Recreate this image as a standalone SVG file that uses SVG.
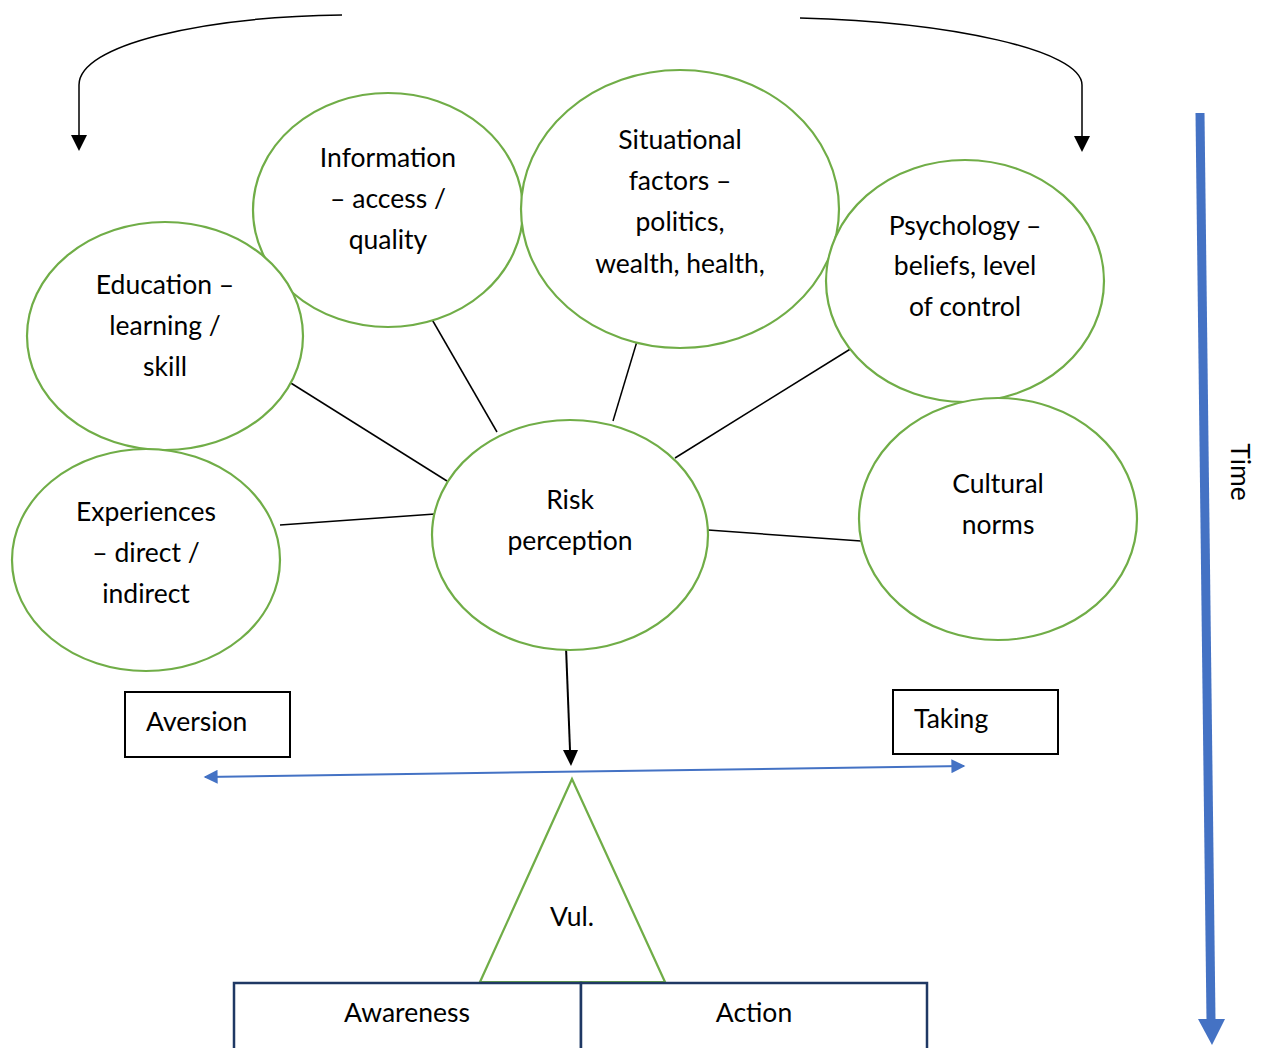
<svg xmlns="http://www.w3.org/2000/svg" width="1267" height="1048" viewBox="0 0 1267 1048">
<defs>
<style>
.n{fill:#fff;stroke:#70AD47;stroke-width:2.2}
.t{font-family:Lato,"Open Sans",sans-serif;font-size:26.5px;fill:#000;text-anchor:middle}
.s{text-anchor:start}
.l{stroke:#000;stroke-width:1.5;fill:none}
.b{fill:#fff;stroke:#000;stroke-width:2}
.nb{fill:#fff;stroke:#1F3864;stroke-width:2.5}
</style>
<marker id="ab" viewBox="0 0 10 10" refX="9" refY="5" markerWidth="16" markerHeight="14" markerUnits="userSpaceOnUse" orient="auto-start-reverse"><path d="M0,0 L10,5 L0,10 z" fill="#4472C4"/></marker>
</defs>
<rect width="1267" height="1048" fill="#fff"/>
<g id="connectors">
<path class="l" d="M342,15 C200,17 79,45 79,85 L79,138" stroke-width="2"/>
<path d="M71,135 L87,135 L79,151 z" fill="#000"/>
<path class="l" d="M800,18 C950,22 1082,50 1082,85 L1082,138" stroke-width="2"/>
<path d="M1074,136 L1090,136 L1082,152 z" fill="#000"/>
<line class="l" x1="286" y1="380" x2="447" y2="481"/>
<line class="l" x1="430" y1="316" x2="497" y2="432"/>
<line class="l" x1="638" y1="338" x2="613" y2="421"/>
<line class="l" x1="852" y1="348" x2="675" y2="458"/>
<line class="l" x1="280" y1="525" x2="435" y2="514"/>
<line class="l" x1="708" y1="530" x2="861" y2="541"/>
<line x1="566" y1="647" x2="570" y2="750" stroke="#000" stroke-width="2"/>
<path d="M563,750 L578,750 L571,766 z" fill="#000"/>
<line x1="205" y1="777" x2="964" y2="766" stroke="#4472C4" stroke-width="2" marker-start="url(#ab)" marker-end="url(#ab)"/>
<line x1="1200" y1="113" x2="1211" y2="1020" stroke="#4472C4" stroke-width="9"/>
<path d="M1198,1019 L1225,1019 L1212,1045 z" fill="#4472C4"/>
</g>
<g id="info"><ellipse class="n" cx="388" cy="210" rx="135" ry="117"/><text class="t" x="388" y="167">Information</text><text class="t" x="388" y="208">– access /</text><text class="t" x="388" y="249">quality</text></g>
<g id="situational"><ellipse class="n" cx="680" cy="209" rx="159" ry="139"/><text class="t" x="680" y="149">Situational</text><text class="t" x="680" y="190">factors –</text><text class="t" x="680" y="231">politics,</text><text class="t" x="680" y="273">wealth, health,</text></g>
<g id="education"><ellipse class="n" cx="165" cy="336" rx="138" ry="114"/><text class="t" x="165" y="294">Education –</text><text class="t" x="165" y="335">learning /</text><text class="t" x="165" y="376">skill</text></g>
<g id="psychology"><ellipse class="n" cx="965" cy="281" rx="139" ry="121"/><text class="t" x="965" y="235">Psychology –</text><text class="t" x="965" y="275">beliefs, level</text><text class="t" x="965" y="316">of control</text></g>
<g id="experiences"><ellipse class="n" cx="146" cy="560" rx="134" ry="111"/><text class="t" x="146" y="521">Experiences</text><text class="t" x="146" y="562">– direct /</text><text class="t" x="146" y="603">indirect</text></g>
<g id="risk"><ellipse class="n" cx="570" cy="535" rx="138" ry="115"/><text class="t" x="570" y="509">Risk</text><text class="t" x="570" y="550">perception</text></g>
<g id="cultural"><ellipse class="n" cx="998" cy="519" rx="139" ry="121"/><text class="t" x="998" y="493">Cultural</text><text class="t" x="998" y="534">norms</text></g>
<g id="aversion"><rect class="b" x="125" y="692" width="165" height="65"/><text class="t s" x="146" y="731">Aversion</text></g>
<g id="taking"><rect class="b" x="893" y="690" width="165" height="64"/><text class="t s" x="914" y="728">Taking</text></g>
<g id="vul"><path d="M572,779 L665,982 L480,982 z" fill="#fff" stroke="#70AD47" stroke-width="2.2"/><text class="t" x="572" y="926">Vul.</text></g>
<g id="awareness"><rect class="nb" x="234" y="983" width="347" height="70"/><text class="t" x="407" y="1022">Awareness</text></g>
<g id="action"><rect class="nb" x="581" y="983" width="346" height="70"/><text class="t" x="754" y="1022">Action</text></g>
<g id="time"><text class="t" transform="translate(1231,472) rotate(90)" x="0" y="0">Time</text></g>
</svg>
